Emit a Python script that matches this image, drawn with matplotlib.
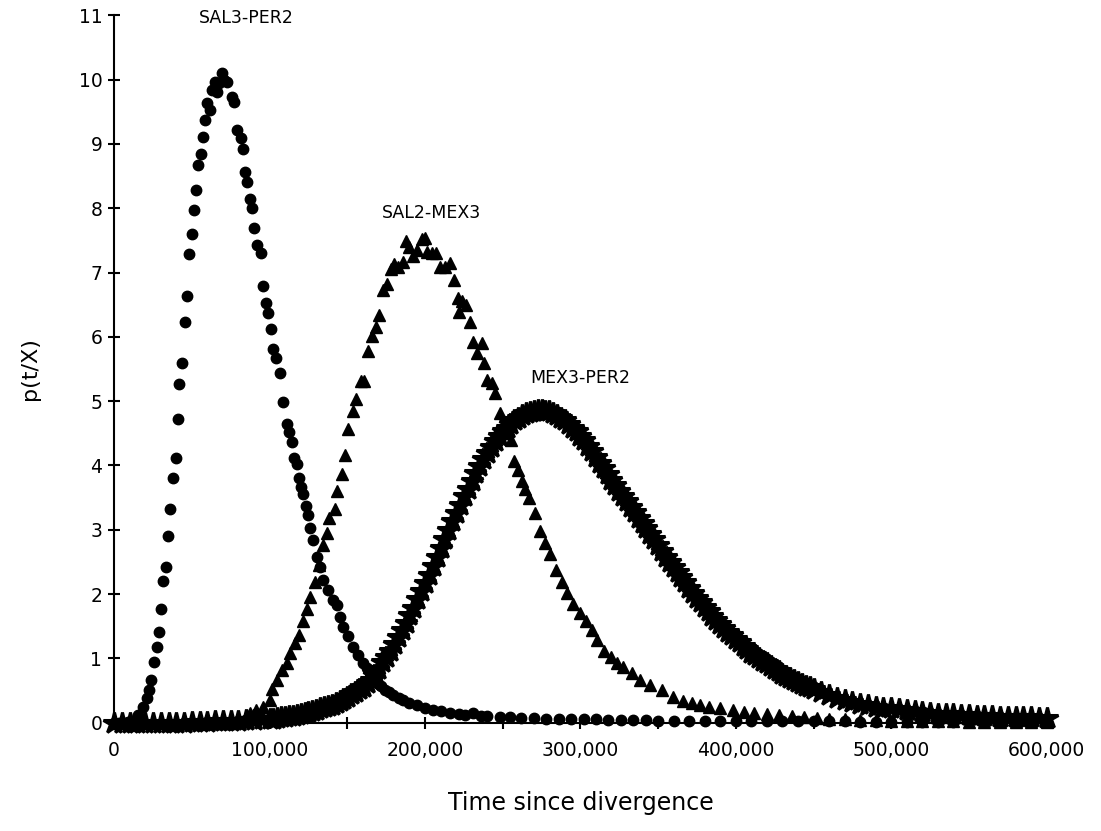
import numpy as np
import matplotlib
matplotlib.use("Agg")
import matplotlib.pyplot as plt
from matplotlib.ticker import FixedLocator, FuncFormatter

# SAL3-PER2 (circles), values
sal3_x = [0, 3000, 6000, 9000, 12000, 15500, 18700, 20900, 22600, 23700,
          25600, 27350, 28640, 30120, 31600, 33330, 34620, 35910, 37840, 39570,
          40860, 41890, 43440, 45560, 46650, 48130, 49870, 51350, 52640, 54120,
          55660, 57340, 58620, 59910, 61650, 62930, 64860, 66350, 67500, 69370,
          70800, 72390, 75610, 77090, 78830, 81400, 82690, 84170, 85650, 87390,
          88480, 89960, 92090, 94270, 95950, 97490, 99160, 100700, 102000, 104100,
          106700, 108800, 111000, 112500, 114200, 115700, 117400, 118900, 120000, 121700,
          123200, 124900, 126000, 128100, 130300, 132400, 134600, 137800, 141000, 143200,
          145300, 147400, 150600, 153900, 157100, 160300, 162500, 164600, 166800, 168900,
          171600, 174300, 177000, 179600, 183000, 186000, 190000, 194700, 200000, 205300,
          210000, 216100, 222000, 226000, 231000, 236000, 240000, 248000, 255000, 262000,
          270000, 278000, 286000, 294000, 302000, 310000, 318000, 326000, 334000, 342000,
          350000, 360000, 370000, 380000, 390000, 400000, 410000, 420000, 430000, 440000,
          450000, 460000, 470000, 480000, 490000, 500000, 510000, 520000, 530000, 540000,
          550000, 560000, 570000, 580000, 590000, 600000]
sal3_y = [0.00, 0.00, 0.00, 0.01, 0.03, 0.12, 0.25, 0.38, 0.51, 0.66,
          0.95, 1.18, 1.41, 1.76, 2.20, 2.42, 2.91, 3.32, 3.80, 4.12,
          4.72, 5.26, 5.59, 6.23, 6.64, 7.29, 7.60, 7.97, 8.29, 8.67,
          8.85, 9.11, 9.38, 9.63, 9.53, 9.84, 9.97, 9.81, 9.95, 10.10,
          10.00, 9.97, 9.73, 9.66, 9.22, 9.10, 8.92, 8.57, 8.41, 8.14,
          8.00, 7.69, 7.43, 7.31, 6.79, 6.53, 6.37, 6.12, 5.81, 5.67,
          5.44, 4.99, 4.64, 4.52, 4.37, 4.11, 4.03, 3.81, 3.67, 3.56,
          3.37, 3.23, 3.03, 2.84, 2.58, 2.42, 2.22, 2.06, 1.91, 1.83,
          1.65, 1.49, 1.34, 1.18, 1.05, 0.92, 0.85, 0.77, 0.70, 0.64,
          0.57, 0.51, 0.47, 0.43, 0.39, 0.35, 0.31, 0.27, 0.23, 0.20,
          0.18, 0.15, 0.13, 0.12, 0.15, 0.11, 0.10, 0.09, 0.08, 0.07,
          0.07, 0.06, 0.06, 0.05, 0.05, 0.05, 0.04, 0.04, 0.04, 0.04,
          0.03, 0.03, 0.03, 0.03, 0.03, 0.02, 0.02, 0.02, 0.02, 0.02,
          0.02, 0.02, 0.02, 0.01, 0.01, 0.01, 0.01, 0.01, 0.01, 0.01,
          0.01, 0.01, 0.01, 0.01, 0.01, 0.01]

# SAL2-MEX3 (triangles)
sal2_x = [0, 5000, 10000, 15000, 20000, 25000, 30000, 35000, 40000, 45000,
          50000, 55000, 60000, 65000, 70000, 75000, 80000, 83000, 87400, 91500,
          95900, 100300, 101400, 104600, 107800, 111000, 113100, 116300, 118900, 121300,
          124300, 126000, 129200, 131500, 134200, 136700, 138400, 142100, 143600, 146400,
          148500, 150600, 153500, 155600, 158600, 160900, 163300, 165700, 168300, 170600,
          172800, 175400, 177900, 180100, 182800, 185600, 187800, 189900, 192500, 195000,
          197900, 200000, 201500, 204300, 207100, 209700, 212900, 216100, 218900, 221400,
          222200, 224000, 226400, 229000, 230700, 233300, 236500, 238200, 240100, 242900,
          245000, 248300, 251500, 255100, 257300, 260000, 262200, 264300, 267100, 270800,
          274000, 277200, 280400, 284300, 287900, 291600, 295400, 299700, 303600, 307300,
          310900, 315200, 319500, 323400, 327600, 333000, 338400, 344800, 352300, 359800,
          366000, 372000, 377000, 383000, 390000, 398000, 405000, 412000, 420000, 428000,
          436000, 444000, 452000, 460000, 470000, 480000, 490000, 500000, 510000, 520000,
          530000, 540000, 550000, 560000, 570000, 580000, 590000, 600000]
sal2_y = [0.00, 0.00, 0.00, 0.00, 0.00, 0.00, 0.00, 0.00, 0.00, 0.00,
          0.00, 0.00, 0.00, 0.00, 0.00, 0.00, 0.01, 0.03, 0.15, 0.20,
          0.25, 0.35, 0.52, 0.67, 0.82, 0.93, 1.09, 1.24, 1.36, 1.58,
          1.76, 1.96, 2.18, 2.45, 2.76, 2.95, 3.18, 3.33, 3.61, 3.87,
          4.16, 4.56, 4.84, 5.04, 5.31, 5.31, 5.78, 6.01, 6.16, 6.34,
          6.73, 6.82, 7.05, 7.14, 7.09, 7.17, 7.49, 7.40, 7.25, 7.35,
          7.52, 7.53, 7.32, 7.31, 7.30, 7.08, 7.09, 7.15, 6.88, 6.61,
          6.39, 6.56, 6.49, 6.23, 5.92, 5.75, 5.90, 5.60, 5.33, 5.28,
          5.12, 4.82, 4.62, 4.39, 4.07, 3.93, 3.76, 3.63, 3.50, 3.26,
          2.98, 2.80, 2.63, 2.37, 2.19, 2.02, 1.84, 1.71, 1.58, 1.44,
          1.28, 1.12, 1.02, 0.93, 0.86, 0.77, 0.66, 0.58, 0.51, 0.40,
          0.34, 0.30, 0.27, 0.24, 0.22, 0.20, 0.17, 0.15, 0.14, 0.12,
          0.10, 0.08, 0.07, 0.06, 0.05, 0.04, 0.04, 0.03, 0.03, 0.02,
          0.02, 0.02, 0.01, 0.01, 0.01, 0.01, 0.01, 0.01]

# MEX3-PER2 (stars), dense sampling: head / main / tail
mex3_head_x = np.arange(0, 100000, 5000)
mex3_head_y = [0.00, 0.00, 0.00, 0.00, 0.00, 0.00, 0.00, 0.00, 0.00, 0.00,
               0.01, 0.01, 0.01, 0.02, 0.02, 0.03, 0.03, 0.04, 0.04, 0.05]
mex3_main_x = np.arange(100000, 452500, 2500)
mex3_main_y = [0.05, 0.06, 0.07, 0.08, 0.09, 0.10, 0.11, 0.12, 0.13, 0.15,
               0.17, 0.18, 0.20, 0.22, 0.24, 0.26, 0.28, 0.31, 0.33, 0.36,
               0.40, 0.44, 0.48, 0.52, 0.56, 0.61, 0.66, 0.74, 0.84, 0.94,
               1.02, 1.12, 1.22, 1.33, 1.44, 1.55, 1.67, 1.79, 1.92, 2.04,
               2.17, 2.30, 2.44, 2.58, 2.72, 2.86, 3.00, 3.13, 3.26, 3.39,
               3.52, 3.64, 3.76, 3.88, 3.99, 4.10, 4.20, 4.29, 4.38, 4.46,
               4.53, 4.59, 4.65, 4.70, 4.74, 4.78, 4.81, 4.83, 4.85, 4.86,
               4.86, 4.85, 4.84, 4.81, 4.78, 4.74, 4.70, 4.65, 4.59, 4.53,
               4.46, 4.39, 4.31, 4.22, 4.13, 4.04, 3.96, 3.87, 3.78, 3.70,
               3.61, 3.53, 3.45, 3.36, 3.28, 3.19, 3.11, 3.02, 2.94, 2.85,
               2.76, 2.67, 2.58, 2.50, 2.42, 2.34, 2.26, 2.18, 2.10, 2.02,
               1.94, 1.87, 1.80, 1.73, 1.66, 1.60, 1.54, 1.47, 1.41, 1.36,
               1.30, 1.25, 1.19, 1.14, 1.09, 1.05, 1.00, 0.96, 0.92, 0.88,
               0.84, 0.80, 0.76, 0.73, 0.70, 0.66, 0.63, 0.60, 0.57, 0.55,
               0.52]
mex3_tail_x = np.arange(455000, 605000, 5000)
mex3_tail_y = [0.48, 0.43, 0.39, 0.35, 0.32, 0.29, 0.27, 0.25, 0.23, 0.22,
               0.21, 0.19, 0.18, 0.16, 0.15, 0.14, 0.13, 0.13, 0.12, 0.12,
               0.11, 0.10, 0.10, 0.09, 0.09, 0.08, 0.08, 0.08, 0.07, 0.07]

labels = ["SAL3-PER2", "SAL2-MEX3", "MEX3-PER2"]
label_pos = [(84800, 10.96), (204500, 7.93), (299700, 5.36)]

x_major = [0, 100000, 200000, 300000, 400000, 500000, 600000]
x_minor = [50000, 150000, 250000, 350000, 450000, 550000]
y_ticks = list(range(0, 12))


fig = plt.figure(figsize=(11.01, 8.31), dpi=100)
ax = fig.add_axes([0.1037, 0.1304, 0.8469, 0.8511])

mex3_x = np.concatenate([mex3_head_x, mex3_main_x, mex3_tail_x])
mex3_y = mex3_head_y + mex3_main_y + mex3_tail_y

ax.plot(mex3_x, mex3_y, linestyle="none", marker="*", markersize=16,
        color="black", markeredgewidth=2.2, clip_on=False)
ax.plot(sal2_x, sal2_y, linestyle="none", marker="^", markersize=8,
        color="black", clip_on=False)
ax.plot(sal3_x, sal3_y, linestyle="none", marker="o", markersize=7.5,
        color="black", clip_on=False)

for text, (tx, ty) in zip(labels, label_pos):
    ax.text(tx, ty, text, ha="center", va="center", fontsize=12.5)

ax.set_xlim(0, 600000)
ax.set_ylim(0, 11)
ax.xaxis.set_major_locator(FixedLocator(x_major))
ax.xaxis.set_minor_locator(FixedLocator(x_minor))
ax.xaxis.set_major_formatter(FuncFormatter(lambda v, p: f"{int(v):,}"))
ax.set_yticks(y_ticks)

for side in ["top", "right"]:
    ax.spines[side].set_visible(False)
for side in ["left", "bottom"]:
    ax.spines[side].set_linewidth(1.5)

ax.tick_params(axis="both", which="both", direction="inout", length=9,
               width=1.5, labelsize=13.5)
ax.tick_params(axis="x", which="major", pad=9)
ax.tick_params(axis="y", which="major", pad=4)

ax.set_xlabel("Time since divergence", fontsize=17, labelpad=22)
ax.set_ylabel("p(t/X)", fontsize=16, labelpad=28)

fig.savefig("out.png", dpi=100)
